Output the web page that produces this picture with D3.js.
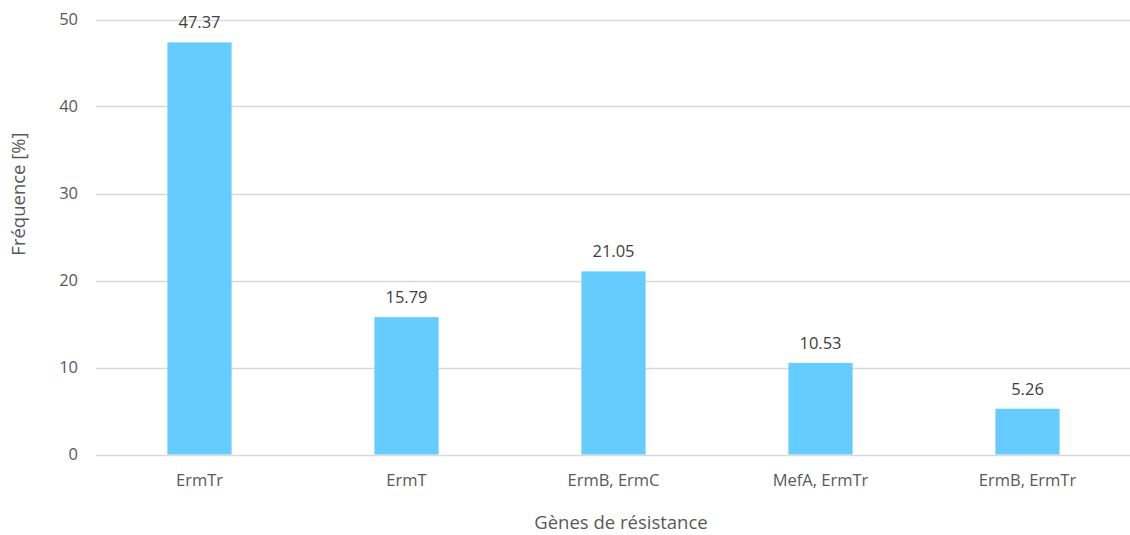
<!DOCTYPE html>
<html><head><meta charset="utf-8">
<script src="https://cdn.jsdelivr.net/npm/d3@7"></script>
<style>body{margin:0;background:#fff}svg{display:block}</style>
</head><body>
<svg id="c" width="1130" height="535"></svg>
<script>
const categories = ["ErmTr", "ErmT", "ErmB, ErmC", "MefA, ErmTr", "ErmB, ErmTr"];
const values = [47.37, 15.79, 21.05, 10.53, 5.26];
const yTicks = [0, 10, 20, 30, 40, 50];

const svg = d3.select("#c");
const font = "'Open Sans', 'Noto Sans', sans-serif";
const textColor = "#595959";
const x0 = 96, x1 = 1131, yTop = 19.5, yBot = 454.5;

const x = d3.scaleBand().domain(categories).range([x0, x1]).paddingInner(0.69).paddingOuter(0.345);
const y = d3.scaleLinear().domain([0, 50]).range([yBot, yTop]);

// gridlines
svg.append("g").selectAll("line").data(yTicks).join("line")
  .attr("x1", x0).attr("x2", x1)
  .attr("y1", d => Math.round(y(d)) + 0.5).attr("y2", d => Math.round(y(d)) + 0.5)
  .attr("stroke", "#d9d9d9").attr("stroke-width", 1.3);

// y tick labels
svg.append("g").selectAll("text").data(yTicks).join("text")
  .attr("x", 78).attr("y", d => y(d)).attr("dy", "0.35em")
  .attr("text-anchor", "end").attr("font-family", font).attr("font-size", 16.5)
  .attr("fill", textColor).text(d => d);

// bars
svg.append("g").selectAll("rect").data(values).join("rect")
  .attr("x", (d, i) => x(categories[i])).attr("width", x.bandwidth())
  .attr("y", d => y(d)).attr("height", d => yBot - y(d))
  .attr("fill", "#66ccff");

// value labels
svg.append("g").selectAll("text").data(values).join("text")
  .attr("x", (d, i) => x(categories[i]) + x.bandwidth() / 2)
  .attr("y", d => y(d) - 20).attr("dy", "0.35em")
  .attr("text-anchor", "middle").attr("font-family", font).attr("font-size", 16.5)
  .attr("fill", "#404040").text(d => d.toFixed(2));

// category labels
svg.append("g").selectAll("text").data(categories).join("text")
  .attr("x", d => x(d) + x.bandwidth() / 2).attr("y", 480).attr("dy", "0.35em")
  .attr("text-anchor", "middle").attr("font-family", font).attr("font-size", 16.5)
  .attr("fill", textColor).text(d => d);

// axis titles
svg.append("text").attr("x", 621).attr("y", 523).attr("dy", "0.35em")
  .attr("text-anchor", "middle").attr("font-family", font).attr("font-size", 18.5)
  .attr("fill", textColor).text("Gènes de résistance");
svg.append("text").attr("transform", "translate(19,194) rotate(-90)").attr("dy", "0.35em")
  .attr("text-anchor", "middle").attr("font-family", font).attr("font-size", 18.5)
  .attr("fill", textColor).text("Fréquence [%]");
</script>
</body></html>
